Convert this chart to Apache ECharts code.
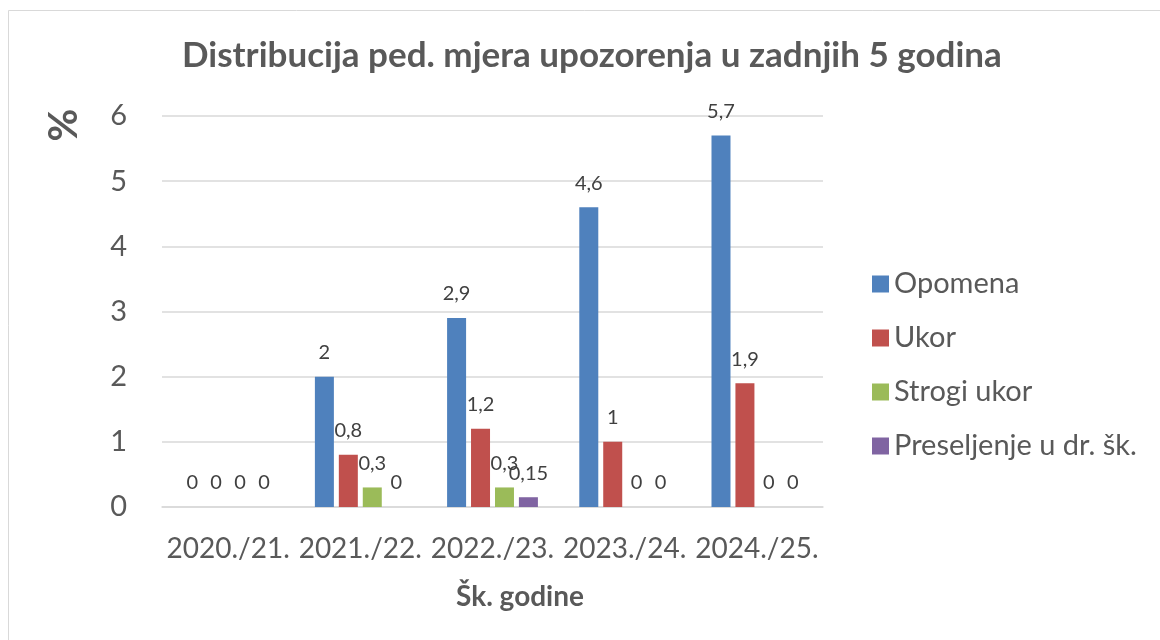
<!DOCTYPE html>
<html>
<head>
<meta charset="utf-8">
<script src="https://cdn.jsdelivr.net/npm/echarts@6/dist/echarts.min.js"></script>
<style>
html,body{margin:0;padding:0;background:#fff;}
#c{width:1160px;height:640px;}
</style>
</head>
<body>
<div id="c"></div>
<script>
const categories = ['2020./21.', '2021./22.', '2022./23.', '2023./24.', '2024./25.'];
const seriesNames = ['Opomena', 'Ukor', 'Strogi ukor', 'Preseljenje u dr. šk.'];
const opomena = [0, 2, 2.9, 4.6, 5.7];
const ukor = [0, 0.8, 1.2, 1, 1.9];
const strogiUkor = [0, 0.3, 0.3, 0, 0];
const preseljenje = [0, 0, 0.15, 0, 0];
const yTicks = [0, 1, 2, 3, 4, 5, 6];
const titleText = 'Distribucija ped. mjera upozorenja u zadnjih 5 godina';
const xName = 'Šk. godine';
const yName = '%';

const colors = ['#4f81bd', '#c0504d', '#9bbb59', '#8064a2'];
const FONT = 'Lato';
const TXT = '#595959';

const allData = [opomena, ukor, strogiUkor, preseljenje];

const chart = echarts.init(document.getElementById('c'), null, {renderer: 'canvas'});
chart.setOption({
  animation: false,
  backgroundColor: '#ffffff',
  color: colors,
  title: {
    text: titleText,
    left: 182,
    top: 38,
    padding: 0,
    textStyle: {fontFamily: FONT, fontWeight: 'bold', fontSize: 35, color: TXT}
  },
  legend: {
    orient: 'vertical',
    left: 867,
    top: 264,
    itemWidth: 17,
    itemHeight: 17,
    itemGap: 24,
    icon: 'rect',
    data: seriesNames,
    textStyle: {fontFamily: FONT, fontSize: 29, color: TXT, lineHeight: 30, padding: [0, 0, 0, 0]}
  },
  grid: {left: 162, right: 337, top: 116, bottom: 133, containLabel: false},
  xAxis: {
    type: 'category',
    data: categories,
    axisLine: {show: true, lineStyle: {color: '#d9d9d9', width: 1.5}},
    axisTick: {show: false},
    axisLabel: {interval: 0, margin: 28, fontFamily: FONT, fontSize: 28, color: TXT}
  },
  yAxis: {
    type: 'value',
    min: 0,
    max: yTicks[yTicks.length - 1],
    interval: 1,
    axisLine: {show: false},
    axisTick: {show: false},
    splitLine: {lineStyle: {color: '#d9d9d9', width: 1.5}},
    axisLabel: {margin: 35, fontFamily: FONT, fontSize: 29, color: TXT}
  },
  graphic: [
    {
      type: 'rect',
      shape: {x: 8.5, y: 10.5, width: 1200, height: 700},
      style: {fill: 'none', stroke: '#d9d9d9', lineWidth: 1},
      silent: true, z: -1
    },
    {
      type: 'text',
      x: 64, y: 125,
      rotation: Math.PI / 2,
      style: {text: yName, fontFamily: FONT, fontWeight: 'bold', fontSize: 40, fill: TXT, align: 'center', verticalAlign: 'middle'}
    },
    {
      type: 'text',
      x: 520, y: 597,
      style: {text: xName, fontFamily: FONT, fontWeight: 'bold', fontSize: 28, fill: TXT, align: 'center', verticalAlign: 'middle'}
    }
  ],
  series: seriesNames.map((name, i) => ({
    name: name,
    type: 'bar',
    data: allData[i],
    barWidth: 19,
    barGap: '26%',
    itemStyle: {color: colors[i]},
    label: {
      show: true,
      position: 'top',
      distance: 14,
      fontFamily: FONT,
      fontSize: 20,
      color: '#404040',
      formatter: p => String(p.value).replace('.', ',')
    }
  }))
});
</script>
</body>
</html>
